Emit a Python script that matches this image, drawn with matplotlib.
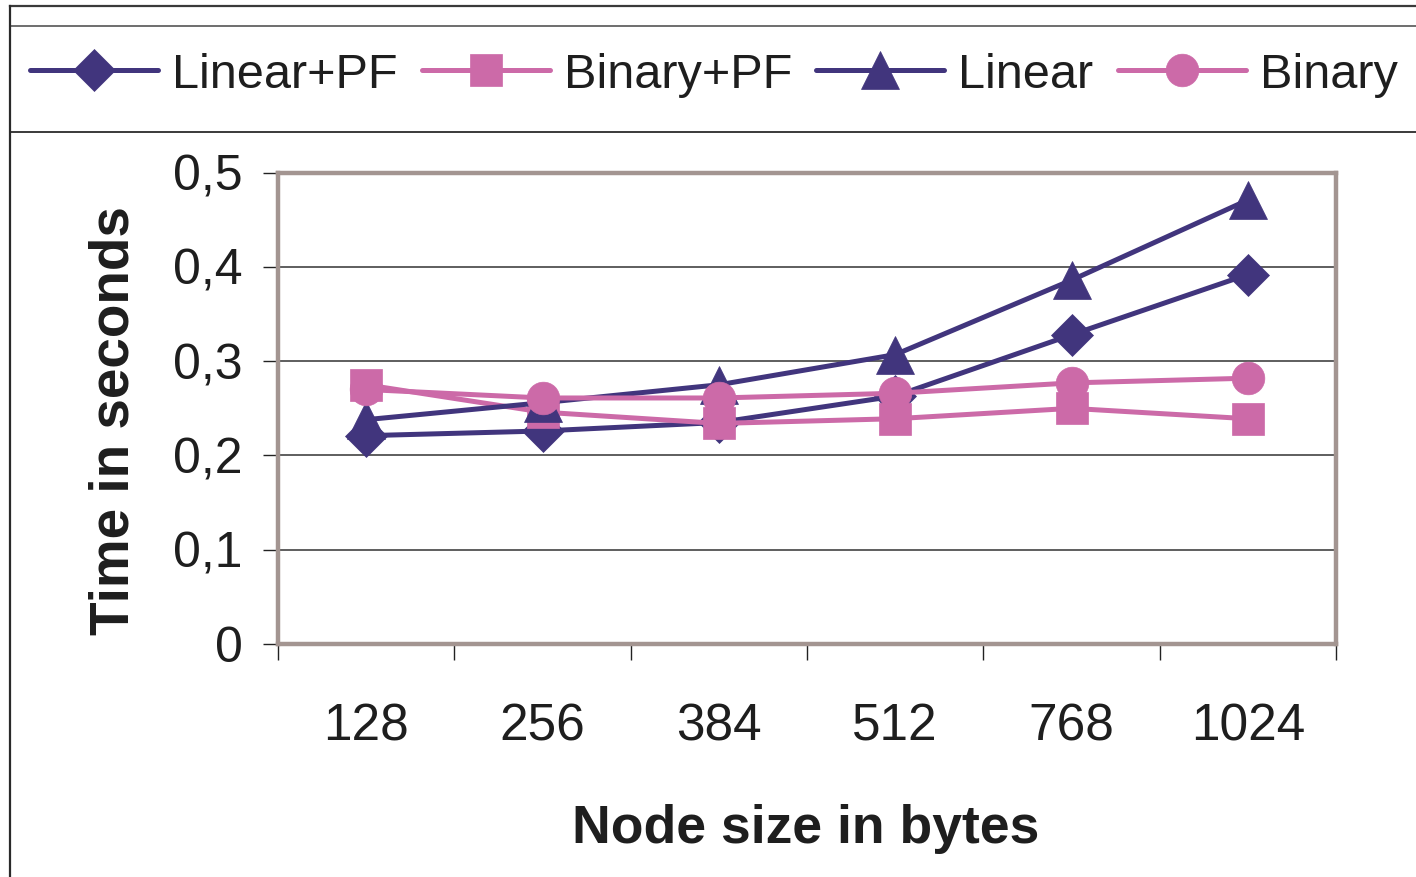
import matplotlib
matplotlib.use("Agg")
import matplotlib.pyplot as plt
from matplotlib.lines import Line2D

# Data: lookup time per node size
node_sizes = ["128", "256", "384", "512", "768", "1024"]
linear_pf = [0.221, 0.226, 0.235, 0.263, 0.328, 0.392]
binary_pf = [0.275, 0.246, 0.234, 0.239, 0.250, 0.239]
linear = [0.238, 0.256, 0.275, 0.307, 0.386, 0.471]
binary = [0.270, 0.261, 0.261, 0.266, 0.277, 0.282]

y_ticks = [0, 0.1, 0.2, 0.3, 0.4, 0.5]
y_ticklabels = ["0", "0,1", "0,2", "0,3", "0,4", "0,5"]

PURPLE = "#41357D"
PINK = "#CC6AA8"
FRAME = "#A39591"
TEXT = "#1E1E1E"
FONT = ["Liberation Sans", "DejaVu Sans"]

W, H, DPI = 1416, 877, 100
fig = plt.figure(figsize=(W / DPI, H / DPI), dpi=DPI)
fig.patch.set_facecolor("white")

ax = fig.add_axes([278 / W, 1 - 644 / H, (1336 - 278) / W, (644 - 172.7) / H])

x = list(range(len(node_sizes)))
series = [
    ("Linear+PF", linear_pf, PURPLE, "D", 21),
    ("Binary+PF", binary_pf, PINK, "s", 23),
    ("Linear", linear, PURPLE, "^", 27.5),
    ("Binary", binary, PINK, "o", 23.5),
]
handles = []
for i, (name, vals, col, mk, ms) in enumerate(series):
    (ln,) = ax.plot(x, vals, color=col, lw=3.6, marker=mk, ms=ms,
                    markerfacecolor=col, markeredgecolor=col, markeredgewidth=0.5,
                    label=name, zorder=3 + i, solid_capstyle="round")
    handles.append(ln)

ax.set_xlim(-0.5, len(node_sizes) - 0.5)
ax.set_ylim(0, 0.5)

# grid
ax.set_yticks(y_ticks)
ax.set_yticklabels(y_ticklabels)
ax.yaxis.grid(True, color="#333333", lw=1.1)
ax.set_axisbelow(True)

# category boundaries get tick marks, labels sit at category centres
ax.set_xticks([i - 0.5 for i in range(len(node_sizes) + 1)])
ax.set_xticklabels([])
ax.set_xticks(x, minor=True)
ax.set_xticklabels(node_sizes, minor=True)
ax.tick_params(axis="x", which="major", length=11.5, width=1.0, color="#222222", direction="out")
ax.tick_params(axis="x", which="minor", length=0, pad=42, labelsize=37, labelcolor=TEXT)
ax.tick_params(axis="y", which="major", length=10.5, width=1.0, color="#222222",
               direction="out", pad=15, labelsize=36, labelcolor=TEXT)
for lab in ax.get_xticklabels(minor=True) + ax.get_yticklabels():
    lab.set_fontfamily(FONT)

for side in ["top", "right", "bottom", "left"]:
    ax.spines[side].set_color(FRAME)
    ax.spines[side].set_linewidth(3.2)

ax.set_ylabel("Time in seconds", fontsize=39.5, fontweight="bold", color=TEXT,
              family=FONT, va="center")
ax.yaxis.set_label_coords(-0.155, 0.475)
ax.set_xlabel("Node size in bytes", fontsize=38.5, fontweight="bold", color=TEXT,
              family=FONT, va="baseline")
ax.xaxis.set_label_coords(0.499, -0.422)

# outer frame lines of the chart area
def hline(y, x0, x1, lw, c="#3A3A3A"):
    fig.add_artist(Line2D([x0 / W, x1 / W], [1 - y / H, 1 - y / H], color=c, lw=lw,
                          transform=fig.transFigure))

hline(6, 10, W, 1.6)
hline(26, 10, W, 1.2, "#555555")
hline(132, 10, W, 1.4)
fig.add_artist(Line2D([10 / W, 10 / W], [1 - 6 / H, 0], color="#2A2A2A", lw=1.6,
                      transform=fig.transFigure))

leg = fig.legend(handles=handles, loc="center left", bbox_to_anchor=(30 / W, 1 - 75 / H),
                 ncol=4, frameon=False, borderpad=0, borderaxespad=0,
                 handlelength=2.63, handletextpad=0.29, columnspacing=0.5,
                 prop={"family": FONT, "size": 35})
for t in leg.get_texts():
    t.set_color(TEXT)

fig.savefig("out.png", dpi=DPI, facecolor="white")
